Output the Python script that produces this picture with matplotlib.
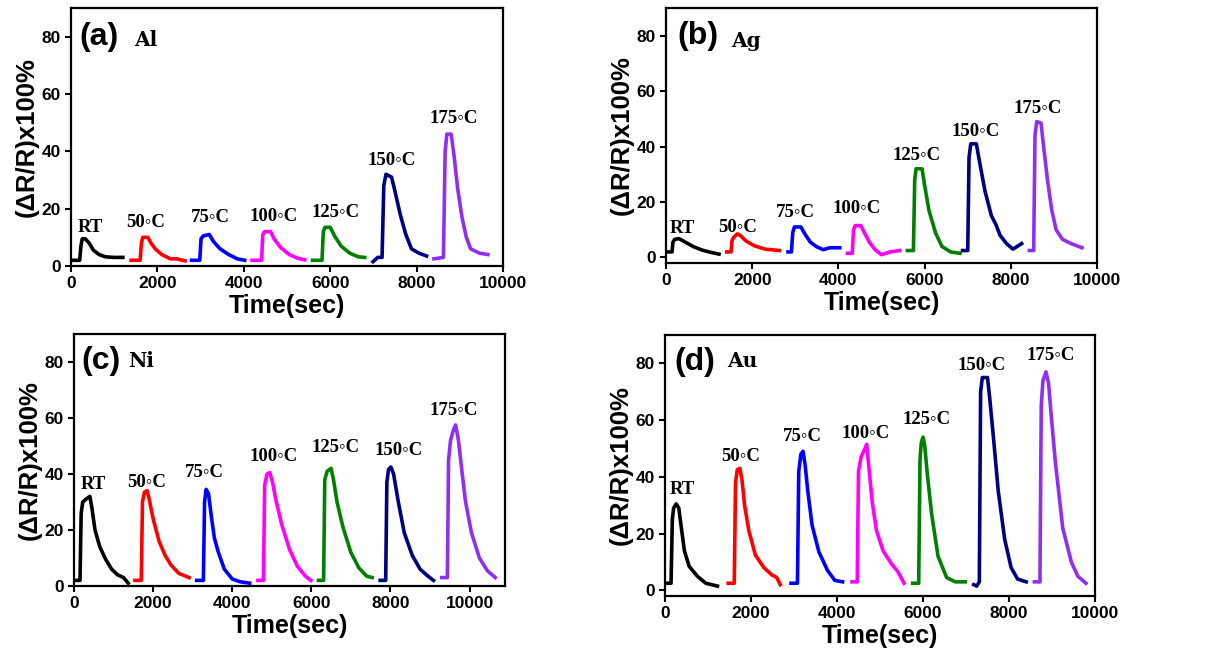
import matplotlib
matplotlib.use("Agg")
import matplotlib.pyplot as plt

# curve labels and colours (same order in every panel)
temps = ["RT", "50\u25e6C", "75\u25e6C", "100\u25e6C", "125\u25e6C", "150\u25e6C", "175\u25e6C"]
colors = ["black", "#ff0000", "#0000ff", "#ff00ff", "#008000", "#000080", "#8f2ff5"]

# (a) Al : time (sec) and response (%)
al_t = [[0, 200, 230, 260, 330, 420, 520, 650, 800, 1000, 1200],
        [1390, 1600, 1630, 1660, 1780, 1850, 1950, 2100, 2300, 2450, 2640],
        [2790, 2980, 3010, 3060, 3200, 3300, 3450, 3650, 3850, 4020],
        [4190, 4410, 4440, 4480, 4620, 4700, 4850, 5050, 5250, 5410],
        [5590, 5810, 5840, 5880, 6000, 6100, 6250, 6450, 6650, 6800],
        [6990, 7100, 7200, 7240, 7290, 7420, 7500, 7620, 7750, 7880, 8050, 8230],
        [8400, 8620, 8660, 8700, 8800, 8870, 8950, 9050, 9150, 9250, 9450, 9650]]
al_y = [[2, 2, 7, 9.5, 9.5, 8, 5.5, 4, 3.2, 3, 3],
        [2, 2, 8, 10, 10, 8, 6, 4, 2.5, 2.5, 1.8],
        [2, 2, 9.5, 10.5, 11, 8.5, 6, 4, 2.5, 2],
        [2, 2, 11, 12, 12, 9.5, 6.5, 4, 2.7, 2.2],
        [2, 2, 12, 13.5, 13.5, 10.5, 7, 4.5, 3.2, 3],
        [1.5, 3, 3, 28, 32, 31, 26, 18, 11, 6, 4.5, 3.5],
        [2.5, 3, 40, 46, 46, 38, 27, 17, 10, 6, 4.5, 4]]

# (b) Ag
ag_t = [[0, 140, 160, 200, 300, 450, 650, 850, 1050, 1230],
        [1410, 1510, 1530, 1560, 1650, 1720, 1850, 2050, 2300, 2630],
        [2830, 2910, 2940, 2980, 3130, 3220, 3350, 3500, 3650, 3800, 4030],
        [4210, 4320, 4350, 4390, 4520, 4600, 4720, 4850, 5000, 5200, 5420],
        [5600, 5740, 5770, 5800, 5940, 6000, 6100, 6250, 6400, 6600, 6820],
        [6880, 7000, 7030, 7070, 7200, 7280, 7400, 7550, 7650, 7750, 7900, 8050, 8250],
        [8430, 8530, 8560, 8600, 8700, 8760, 8850, 8950, 9050, 9200, 9400, 9650]]
ag_y = [[2, 2, 5.5, 6.5, 6.8, 5.5, 3.8, 2.6, 1.8, 1.2],
        [2, 2, 6, 7, 8.5, 8, 6, 4.2, 3, 2.5],
        [2, 2, 9, 11, 11, 8.5, 5.5, 3.8, 2.8, 3.5, 3.5],
        [1.5, 1.5, 10, 11.5, 11.5, 9, 5.5, 2.8, 1, 2, 2.5],
        [2.5, 2.5, 28, 32, 32, 26, 17, 9, 4, 2, 1.5],
        [2.5, 2.5, 36, 41, 41, 34, 24, 15, 12, 8, 5, 3, 5],
        [2.5, 2.5, 44, 49, 48.5, 40, 28, 17, 10, 6.5, 5, 3.5]]

# (c) Ni
ni_t = [[30, 150, 180, 220, 300, 400, 450, 530, 650, 800, 950, 1100, 1250, 1370],
        [1540, 1700, 1730, 1780, 1850, 1900, 2000, 2150, 2300, 2450, 2650, 2910],
        [3100, 3270, 3300, 3340, 3400, 3470, 3550, 3650, 3800, 4000, 4200, 4440],
        [4650, 4790, 4820, 4880, 4950, 5020, 5100, 5250, 5450, 5650, 5850, 5990],
        [6180, 6310, 6340, 6400, 6500, 6560, 6650, 6800, 7000, 7200, 7400, 7540],
        [7740, 7880, 7910, 7950, 8010, 8080, 8200, 8350, 8550, 8750, 8950, 9090],
        [9300, 9440, 9470, 9520, 9600, 9650, 9720, 9800, 9900, 10050, 10250, 10450, 10650]]
ni_y = [[2, 2, 26, 30, 31, 32, 28, 20, 14, 9.5, 6, 4, 3, 1],
        [2, 2, 30, 33.5, 34, 31, 24, 16, 11, 7.5, 4.5, 3],
        [2, 2, 30, 34.5, 33, 25, 17, 12, 6, 2.5, 1.5, 1],
        [2, 2, 36, 40, 40.5, 37, 31, 22, 13, 7, 3.5, 2],
        [2, 2, 38, 41, 42, 38, 30, 21, 12, 6.5, 3.5, 3],
        [2, 2, 37, 41.5, 42.5, 40, 30, 19, 11, 6, 3.5, 2],
        [3, 3, 45, 52, 56, 57.5, 52, 42, 30, 19, 10, 5.5, 3]]

# (d) Au
au_t = [[0, 140, 170, 200, 260, 320, 380, 450, 560, 750, 950, 1220],
        [1470, 1610, 1640, 1680, 1740, 1790, 1850, 1950, 2100, 2300, 2480, 2600, 2680],
        [2930, 3080, 3110, 3160, 3210, 3260, 3320, 3420, 3580, 3780, 3950, 4130],
        [4350, 4470, 4500, 4560, 4650, 4690, 4750, 4820, 4920, 5070, 5260, 5420, 5560],
        [5760, 5900, 5930, 5960, 6000, 6040, 6100, 6200, 6350, 6550, 6750, 6980],
        [7180, 7250, 7310, 7340, 7380, 7500, 7550, 7650, 7750, 7900, 8050, 8200, 8400],
        [8590, 8720, 8750, 8790, 8860, 8920, 8980, 9080, 9250, 9450, 9600, 9790]]
au_y = [[2.5, 2.5, 25, 29, 30.5, 29, 22, 14, 8.5, 5, 2.5, 1.5],
        [2.5, 2.5, 38, 42.5, 43, 39, 30, 21, 12.5, 8, 5.5, 4.5, 2],
        [2.5, 2.5, 42, 48, 49, 44, 35, 23, 13.5, 7, 3.5, 3],
        [3, 3, 42, 47, 50, 51.5, 42, 31, 21, 14, 9.5, 6.5, 2.5],
        [2.5, 2.5, 46, 52, 54, 51, 41, 27, 12, 4.5, 3, 3],
        [2, 1.5, 3, 70, 75, 75, 68, 52, 35, 18, 8, 4, 3],
        [3, 3, 65, 74, 77, 73, 62, 45, 22, 10, 5, 2.5]]

# where the temperature labels sit (data coords)
al_lab = [(440, 13.6), (1727, 15.3), (3215, 16.9), (4680, 17.1), (6130, 18.6), (7420, 36.9), (8860, 51.3)]
ag_lab = [(390, 10.3), (1667, 10.9), (3008, 16.4), (4420, 17.6), (5814, 36.7), (7194, 45.5), (8628, 53.7)]
ni_lab = [(487, 36.2), (1832, 37.1), (3302, 40.4), (5042, 46.3), (6605, 49.4), (8218, 48.5), (9605, 62.7)]
au_lab = [(411, 35.4), (1767, 47.3), (3186, 54.2), (4674, 55.4), (6085, 60.1), (7372, 79.4), (8977, 82.7)]

sans = ["Liberation Sans", "DejaVu Sans"]
serif = ["Liberation Serif", "DejaVu Sans"]
wide_serif = ["DejaVu Serif", "DejaVu Sans"]


def draw_panel(ax, ts, ys, labs, tag, metal, tag_pos, metal_pos, xmax, ymin):
    for t, y, c in zip(ts, ys, colors):
        ax.plot(t, y, color=c, lw=2.6, solid_joinstyle="round")
    for (x, y), s in zip(labs, temps):
        ax.text(x, y, s, ha="center", va="center", fontsize=13.5, fontweight="bold", family=serif)
    ax.text(tag_pos[0], tag_pos[1], tag, ha="center", va="center", fontsize=23, fontweight="bold", family=sans)
    ax.text(metal_pos[0], metal_pos[1], metal, ha="center", va="center", fontsize=14.5, fontweight="bold",
            family=wide_serif)

    ax.set_xlim(0, xmax)
    ax.set_ylim(ymin, 90)
    ax.set_yticks([0, 20, 40, 60, 80])
    ax.set_xticks(range(0, int(xmax) + 1, 2000))
    ax.tick_params(direction="out", length=4, width=1.5, labelsize=12.5, top=False, right=False)
    for lbl in ax.get_xticklabels() + ax.get_yticklabels():
        lbl.set_fontweight("bold")
        lbl.set_family(sans)
    for sp in ax.spines.values():
        sp.set_linewidth(1.6)
    ax.set_xlabel("Time(sec)", fontsize=18, fontweight="bold", family=sans, labelpad=2)
    ax.set_ylabel("(\u0394R/R)x100%", fontsize=18.5, fontweight="bold", family=sans, labelpad=2)


fig = plt.figure(figsize=(12.18, 6.57), dpi=100)
ax_a = fig.add_axes([0.0583, 0.5951, 0.3547, 0.3927])
ax_b = fig.add_axes([0.5468, 0.5997, 0.3539, 0.3881])
ax_c = fig.add_axes([0.0608, 0.1081, 0.3539, 0.3836])
ax_d = fig.add_axes([0.5460, 0.0928, 0.3530, 0.3973])

draw_panel(ax_a, al_t, al_y, al_lab, "(a)", "Al", (650, 80), (1727, 79), 10000, 0)
draw_panel(ax_b, ag_t, ag_y, ag_lab, "(b)", "Ag", (752, 79.8), (1860, 78.2), 10000, -2)
draw_panel(ax_c, ni_t, ni_y, ni_lab, "(c)", "Ni", (672, 80.2), (1706, 80.2), 10900, 0)
draw_panel(ax_d, au_t, au_y, au_lab, "(d)", "Au", (698, 80.4), (1806, 80.8), 10000, -2)

fig.savefig("out.png", dpi=100)
